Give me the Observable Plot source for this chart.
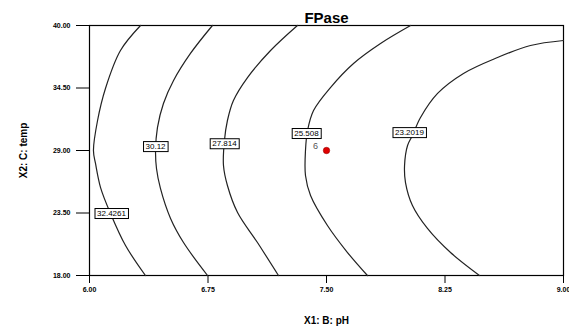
<!DOCTYPE html>
<html>
<head>
<meta charset="utf-8">
<script src="https://cdn.jsdelivr.net/npm/d3@7"></script>
<script src="https://cdn.jsdelivr.net/npm/@observablehq/plot@0.6"></script>
<style>
  html, body { margin: 0; padding: 0; background: #fff; }
  svg { font-family: "Liberation Sans", Arial, sans-serif; }
</style>
</head>
<body>
<div id="chart"></div>
<script>
// Contour levels (FPase)
const levels = [32.4261, 30.12, 27.814, 25.508, 23.2019];

// Each contour line: pH (X1) and temp (X2) values
const c1pH   = [6.323, 6.196, 6.101, 6.051, 6.025, 6.038, 6.070, 6.133, 6.228, 6.354];
const c1temp = [40.0, 37.8, 34.46, 31.64, 29.0, 27.86, 25.74, 23.46, 20.64, 18.0];

const c2pH   = [6.778, 6.639, 6.532, 6.468, 6.430, 6.418, 6.424, 6.449, 6.513, 6.595, 6.747];
const c2temp = [40.0, 37.54, 35.16, 33.14, 31.02, 29.0, 27.42, 25.66, 23.02, 20.90, 18.0];

const c3pH   = [7.316, 7.146, 7.000, 6.911, 6.873, 6.854, 6.848, 6.873, 6.937, 7.063, 7.196];
const c3temp = [40.0, 37.8, 35.42, 33.4, 31.64, 29.88, 27.68, 25.92, 23.54, 20.90, 18.0];

const c4pH   = [8.032, 7.842, 7.671, 7.525, 7.418, 7.380, 7.367, 7.367, 7.399, 7.506, 7.633, 7.759];
const c4temp = [40.0, 38.42, 36.66, 34.54, 32.52, 30.76, 29.0, 26.8, 25.04, 22.4, 20.02, 18.0];

const c5pH   = [9.0, 8.791, 8.582, 8.367, 8.203, 8.095, 8.044, 8.013, 7.994, 8.0, 8.044, 8.139, 8.285, 8.468];
const c5temp = [38.68, 38.24, 37.18, 35.78, 34.02, 31.90, 30.32, 29.44, 27.68, 26.18, 24.16, 22.14, 20.02, 18.0];

// Contour label anchor points
const labelPH   = [6.139, 6.418, 6.854, 7.373, 8.025];
const labelTemp = [23.46, 29.35, 29.6, 30.5, 30.58];

// Design point (center point, 6 replicates)
const designPH = [7.5];
const designTemp = [29.0];
const designCount = ["6"];

// Axis ticks
const xTicks = [6.00, 6.75, 7.50, 8.25, 9.00];
const yTicks = [18.00, 23.50, 29.00, 34.50, 40.00];

const curves = [[c1pH, c1temp], [c2pH, c2temp], [c3pH, c3temp], [c4pH, c4temp], [c5pH, c5temp]];
const lineData = curves.flatMap(([xs, ys], i) => xs.map((x, j) => ({x, y: ys[j], level: levels[i]})));
const labelData = levels.map((l, i) => ({x: labelPH[i], y: labelTemp[i], text: String(l)}));
const designData = designPH.map((x, i) => ({x, y: designTemp[i], n: designCount[i]}));

const chart = Plot.plot({
  width: 569,
  height: 331,
  marginLeft: 89,
  marginRight: 6,
  marginTop: 25,
  marginBottom: 56,
  style: {fontFamily: "'Liberation Sans', Arial, sans-serif", background: "#fff"},
  x: {domain: [6, 9]},
  y: {domain: [18, 40]},
  marks: [
    Plot.frame({stroke: "#000", strokeWidth: 1.2}),
    Plot.axisX({ticks: xTicks, tickFormat: d3.format(".2f"), tickSize: 8, tickPadding: 4,
      fontSize: 7, fontWeight: "bold", label: "X1: B: pH", labelAnchor: "center", labelArrow: "none", labelOffset: 48}),
    Plot.axisY({ticks: yTicks, tickFormat: d3.format(".2f"), tickSize: 13, tickPadding: 6,
      fontSize: 7, fontWeight: "bold", label: "X2: C: temp", labelAnchor: "center", labelArrow: "none", labelOffset: 70}),
    Plot.line(lineData, {x: "x", y: "y", z: "level", curve: "catmull-rom", stroke: "#222", strokeWidth: 1.2}),
    Plot.text(labelData, {x: "x", y: "y", text: "text", fontSize: 8, fill: "#000", className: "clabel"}),
    Plot.dot(designData, {x: "x", y: "y", r: 3.2, fill: "#e00000", stroke: "#900", strokeWidth: 0.6}),
    Plot.text(designData, {x: "x", y: "y", text: "n", dx: -11, dy: -4, fontSize: 9, fill: "#555"}),
    Plot.text(["FPase"], {frameAnchor: "top", dy: -13, fontSize: 15, fontWeight: "bold", fill: "#000"})
  ]
});

document.getElementById("chart").appendChild(chart);

// Boxes around contour labels, sized from the rendered text
d3.select(chart).selectAll("g.clabel text").each(function() {
  const b = this.getBBox();
  const t = this.getAttribute("transform");
  const r = d3.select(this.parentNode).insert("rect", () => this)
    .attr("x", b.x - 2).attr("y", b.y - 0.5)
    .attr("width", b.width + 4).attr("height", b.height + 1)
    .attr("fill", "#fff").attr("stroke", "#000").attr("stroke-width", 1);
  if (t) r.attr("transform", t);
});
// axis labels bold, sized like the reference
d3.select(chart).selectAll("[aria-label='x-axis label'] text, [aria-label='y-axis label'] text")
  .attr("font-size", 10).attr("font-weight", "bold");
</script>
</body>
</html>
